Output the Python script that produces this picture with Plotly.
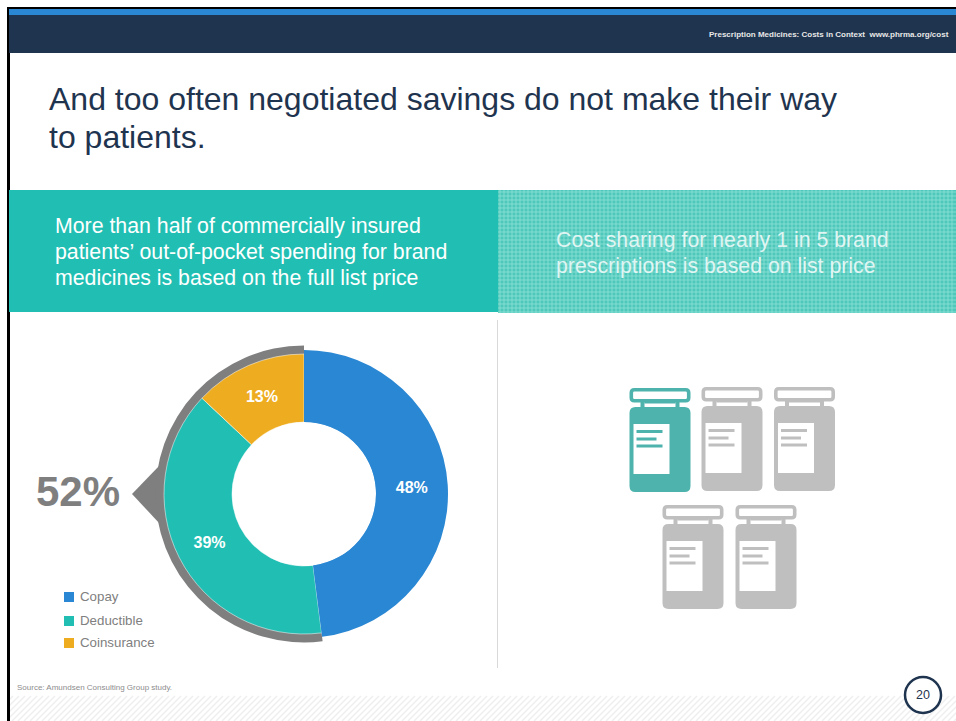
import plotly.graph_objects as go

W, H = 956, 721

# ---- data ----
categories = ["Copay", "Deductible", "Coinsurance"]
shares = [48, 39, 13]
colors = ["#2A87D3", "#21BFB3", "#EEAD20"]
callout_label = "52%"

title_lines = ["And too often negotiated savings do not make their way", "to patients."]
left_banner = ["More than half of commercially insured",
               "patients\u2019 out-of-pocket spending for brand",
               "medicines is based on the full list price"]
right_banner = ["Cost sharing for nearly 1 in 5 brand", "prescriptions is based on list price"]
header_text = "Prescription Medicines: Costs in Context  www.phrma.org/cost"
source_text = "Source: Amundsen Consulting Group study."
page_number = "20"

FONT = "Liberation Sans, Arial, sans-serif"
NAVY = "#1F344F"
GREY = "#7F7F7F"


def px(x):
    return x / W


def py(y):
    return 1 - y / H


def dom(cx, cy, r):
    return dict(x=[px(cx - r), px(cx + r)], y=[py(cy + r), py(cy - r)])


shapes = []
annotations = []


def rect(x0, y0, x1, y1, fill, line=None, lw=0, layer="below"):
    shapes.append(dict(type="rect", xref="paper", yref="paper", layer=layer,
                       x0=px(x0), x1=px(x1), y0=py(y1), y1=py(y0), fillcolor=fill,
                       line=dict(color=line or fill, width=lw)))


def path(d, fill=None, line=None, lw=0, layer="below"):
    shapes.append(dict(type="path", xref="paper", yref="paper", layer=layer, path=d,
                       fillcolor=fill or "rgba(0,0,0,0)",
                       line=dict(color=line or "rgba(0,0,0,0)", width=lw)))


def pt(x, y):
    return f"{px(x):.5f},{py(y):.5f}"


def rrect(x0, y0, x1, y1, r):
    return (f"M{pt(x0 + r, y0)} L{pt(x1 - r, y0)} Q{pt(x1, y0)} {pt(x1, y0 + r)} "
            f"L{pt(x1, y1 - r)} Q{pt(x1, y1)} {pt(x1 - r, y1)} L{pt(x0 + r, y1)} "
            f"Q{pt(x0, y1)} {pt(x0, y1 - r)} L{pt(x0, y0 + r)} Q{pt(x0, y0)} {pt(x0 + r, y0)} Z")


def text(x, y, s, size, color, anchor="left", bold=False, opacity=1):
    # annotations carry about 2px of internal padding; compensate so x is the ink edge
    nudge = {"left": -2, "right": 2, "center": 0}[anchor]
    annotations.append(dict(xref="paper", yref="paper", x=px(x + nudge), y=py(y),
                            text=f"<b>{s}</b>" if bold else s,
                            showarrow=False, xanchor=anchor, yanchor="middle", opacity=opacity,
                            font=dict(family=FONT, size=size, color=color)))


# slide frame
rect(7, 7, 956, 10, "#000000")
rect(7, 7, 10, 721, "#000000")
rect(9, 9, 956, 15, "#2A87D3")
rect(9, 15, 956, 53, NAVY)

# bottom hatch
d = []
for x in range(-30, 980, 6):
    d.append(f"M{pt(x, 721)} L{pt(x + 25, 696)}")
path(" ".join(d), line="#EFEFEF", lw=1.5)
rect(0, 0, 7, 721, "#FFFFFF")
rect(7, 695, 10, 721, "#000000")

# banners
rect(9, 190, 498, 312, "#21BFB3")
rect(498, 190, 956, 313, "#4FC8BC")
d = []
for x in range(500, 956, 4):
    d.append(f"M{pt(x, 190)} L{pt(x, 313)}")
for y in range(192, 313, 4):
    d.append(f"M{pt(498, y)} L{pt(956, y)}")
path(" ".join(d), line="rgba(150,228,218,0.7)", lw=1)

# divider
shapes.append(dict(type="line", xref="paper", yref="paper", layer="below", x0=px(497.5), x1=px(497.5),
                   y0=py(320), y1=py(668), line=dict(color="#D9D9D9", width=1)))

# callout pointer
path(f"M{pt(132, 494)} L{pt(160, 465)} L{pt(160, 524)} Z", fill=GREY)

# page badge (drawn above hatch)
shapes.append(dict(type="circle", xref="paper", yref="paper", layer="below",
                   x0=px(905), x1=px(941), y0=py(713), y1=py(677), fillcolor="#FFFFFF",
                   line=dict(color=NAVY, width=2.5)))


# bottles
def bottle(dx, dy, color):
    x0, x1 = 629.5 + dx, 690.5 + dx
    path(rrect(x0 + 1.8, 389.8 + dy, x1 - 1.8, 400.7 + dy, 3), fill="#FFFFFF", line=color, lw=3.6)
    rect(x0 + 11, 402 + dy, x0 + 15, 408 + dy, color)
    rect(x1 - 15, 402 + dy, x1 - 11, 408 + dy, color)
    rect(x0 + 15, 402 + dy, x1 - 15, 403.5 + dy, color)
    path(rrect(x0, 407 + dy, x1, 492 + dy, 6), fill=color)
    rect(x0 + 4, 424 + dy, x0 + 40, 474 + dy, "#FFFFFF")
    for ly, lx in ((431.5, 33), (439, 27), (446, 33)):
        shapes.append(dict(type="line", xref="paper", yref="paper", layer="below",
                           x0=px(x0 + 7), x1=px(x0 + lx), y0=py(ly + dy), y1=py(ly + dy),
                           line=dict(color=color, width=3)))


bottle(0, 0, "#4DB3AC")
bottle(72, -1, "#BFBFBF")
bottle(144.5, -1, "#BFBFBF")
bottle(33, 117, "#BFBFBF")
bottle(106, 117, "#BFBFBF")

# texts
for s, y in zip(title_lines, (99, 137)):
    text(49, y, s, 32, NAVY)
for s, y in zip(left_banner, (226, 252, 278)):
    text(55, y, s, 21.3, "#FFFFFF")
for s, y in zip(right_banner, (240, 266)):
    text(556, y, s, 21.3, "#FFFFFF", opacity=0.8)
text(949, 35, header_text, 8, "#E8E8E8", anchor="right", bold=True)
text(78, 491, callout_label, 42, GREY, anchor="center", bold=True)
text(17, 687, source_text, 8, "#8C8C8C")
text(923, 695, page_number, 12.5, NAVY, anchor="center")

# key
for name, col, y in zip(categories, colors, (597, 621, 643)):
    rect(64, y - 5, 74, y + 5, col)
    text(80, y - 1, name, 13.3, "#808080")

# donut: grey arc, then blue wedge slightly larger than the others
ring_r, blue_r, main_r, hole_r = 148.5, 144, 140, 72
cx, cy = 304, 494
other = sum(shares[1:])
clear = "rgba(0,0,0,0)"
label_font = dict(family=FONT, size=16, color="#FFFFFF", weight="bold")
traces = [
    go.Pie(values=[shares[0], other], sort=False, direction="clockwise", rotation=0, hole=0.9,
           domain=dom(cx, cy, ring_r), marker=dict(colors=[clear, GREY], line=dict(width=0)),
           textinfo="none", hoverinfo="skip", showlegend=False),
    go.Pie(labels=categories, values=shares, sort=False, direction="clockwise", rotation=0,
           hole=hole_r / main_r, domain=dom(cx, cy, main_r),
           marker=dict(colors=colors, line=dict(color="#FFFFFF", width=0.5)),
           text=[""] + [f"{v}%" for v in shares[1:]], textinfo="text", textposition="inside",
           insidetextorientation="horizontal", textfont=label_font, showlegend=False),
    go.Pie(values=[shares[0], other], sort=False, direction="clockwise", rotation=0,
           hole=hole_r / blue_r, domain=dom(cx, cy, blue_r),
           marker=dict(colors=[colors[0], clear], line=dict(width=0)),
           text=[f"{shares[0]}%", ""], textinfo="text", textposition="inside",
           insidetextorientation="horizontal", textfont=label_font,
           hoverinfo="skip", showlegend=False),
]

fig = go.Figure(traces)
fig.update_layout(
    width=W, height=H, margin=dict(l=0, r=0, t=0, b=0),
    paper_bgcolor="#FFFFFF", plot_bgcolor="#FFFFFF",
    shapes=shapes, annotations=annotations, showlegend=False,
)
fig.write_html("out.html", post_script="document.body.style.margin='0';", config=dict(displayModeBar=False))
